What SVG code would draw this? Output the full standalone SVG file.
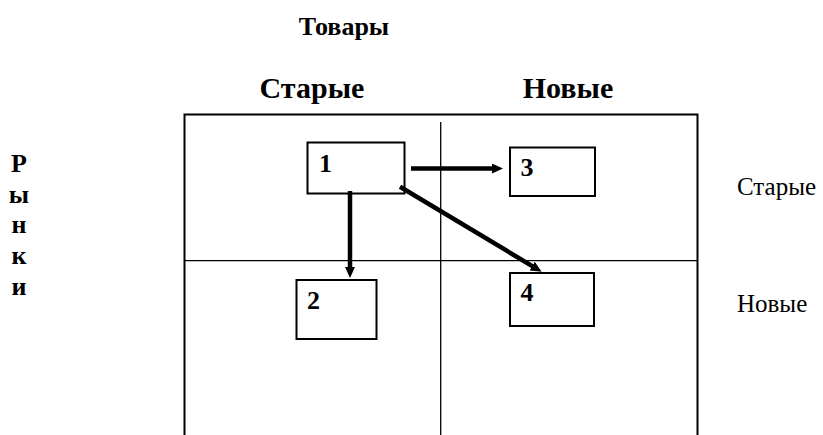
<svg xmlns="http://www.w3.org/2000/svg" width="823" height="435" viewBox="0 0 823 435">
<style>
text { fill: #000; }
.b { font-weight: bold; }
.head { font-size: 30px; font-weight: bold; text-anchor: middle; }
.side { font-size: 25px; }
.vert { font-size: 26px; font-weight: bold; text-anchor: middle; }
.num { font-size: 26px; font-weight: bold; }
.box { fill: #fff; stroke: #000; stroke-width: 2; }
.frame { fill: none; stroke: #000; stroke-width: 2; }
.div { fill: none; stroke: #000; stroke-width: 1.3; }
.arr { stroke: #000; stroke-width: 4.5; fill: none; marker-end: url(#ah); }
</style>
<defs>
<marker id="ah" markerUnits="userSpaceOnUse" markerWidth="11" markerHeight="10" refX="3" refY="5" orient="auto">
<path d="M0,0 L11,5 L0,10 z" fill="#000"/>
</marker>
</defs>
<g font-family="'Liberation Serif', 'Times New Roman', 'DejaVu Serif', serif">
<g id="titles">
<text class="b" x="344" y="35" font-size="26" text-anchor="middle">Товары</text>
<text class="head" x="312" y="98">Старые</text>
<text class="head" x="568" y="98">Новые</text>
</g>
<g id="rows-label">
<text class="vert" x="19" y="172">Р</text>
<text class="vert" x="19" y="203">ы</text>
<text class="vert" x="19" y="233">н</text>
<text class="vert" x="19" y="264">к</text>
<text class="vert" x="19" y="295">и</text>
</g>
<g id="side-labels">
<text class="side" x="737" y="195">Старые</text>
<text class="side" x="737" y="312">Новые</text>
</g>
<g id="grid">
<path class="frame" d="M184.5,436 V114.5 H697.5 V436"/>
<line class="div" x1="440.7" y1="122" x2="440.7" y2="436"/>
<line class="div" x1="184.5" y1="260.7" x2="697.5" y2="260.7"/>
</g>
<g id="node1">
<rect class="box" x="307.5" y="142.5" width="97" height="51"/>
<text class="num" x="319" y="172">1</text>
</g>
<g id="node2">
<rect class="box" x="296.5" y="280" width="80" height="59"/>
<text class="num" x="307" y="309">2</text>
</g>
<g id="node3">
<rect class="box" x="510" y="147.5" width="85" height="48.5"/>
<text class="num" x="520.5" y="176">3</text>
</g>
<g id="node4">
<rect class="box" x="510" y="273" width="84" height="53"/>
<text class="num" x="520.5" y="301">4</text>
</g>
<g id="connectors">
<line class="arr" x1="411" y1="168.5" x2="495" y2="168.5"/>
<line class="arr" x1="350" y1="191" x2="350" y2="270"/>
<line class="arr" x1="400" y1="186.7" x2="534.8" y2="267.6"/>
</g>
</g>
</svg>
